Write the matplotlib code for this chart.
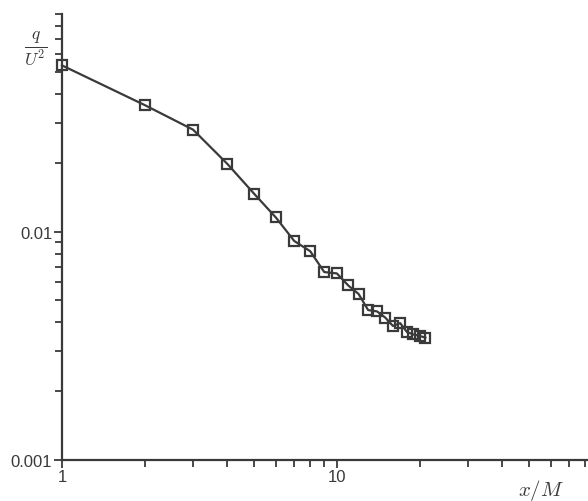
import numpy as np
import matplotlib
matplotlib.use("Agg")
import matplotlib.pyplot as plt
from matplotlib.ticker import LogLocator, NullFormatter, FixedLocator, FixedFormatter

# 讀圖估出來的資料點 (x/M, q/U^2)
x_over_M = [1, 2, 3, 4, 5, 6, 7, 8, 9, 10, 11, 12, 13, 14, 15, 16, 17, 18, 19, 20, 21]
q_over_U2 = [0.0536, 0.0359, 0.0280, 0.0198, 0.01467, 0.01154, 0.00910, 0.00821,
             0.00665, 0.00656, 0.00581, 0.00533, 0.00453, 0.00447, 0.00420,
             0.00386, 0.00397, 0.00363, 0.00354, 0.00349, 0.00343]

x_major = [1, 10]
x_major_labels = ["1", "10"]
y_major = [0.001, 0.01]
y_major_labels = ["0.001", "0.01"]

INK = "#3a3a3a"

plt.rcParams["font.family"] = ["Liberation Sans", "DejaVu Sans"]
plt.rcParams["mathtext.fontset"] = "cm"

fig = plt.figure(figsize=(5.88, 5.02), dpi=100)
ax = fig.add_axes([0.1054, 0.0823, 0.8946, 0.8877])

ax.plot(x_over_M, q_over_U2, color=INK, lw=1.6, marker="s", ms=6.5,
        mfc="none", mec=INK, mew=1.6, clip_on=False, zorder=3)

ax.set_xscale("log")
ax.set_yscale("log")
ax.set_xlim(1, 82)
ax.set_ylim(0.001, 0.09)

for side in ["top", "right"]:
    ax.spines[side].set_visible(False)
for side in ["left", "bottom"]:
    ax.spines[side].set_color(INK)
    ax.spines[side].set_linewidth(1.6)

ax.xaxis.set_major_locator(FixedLocator(x_major))
ax.xaxis.set_major_formatter(FixedFormatter(x_major_labels))
ax.yaxis.set_major_locator(FixedLocator(y_major))
ax.yaxis.set_major_formatter(FixedFormatter(y_major_labels))
ax.xaxis.set_minor_locator(LogLocator(base=10, subs=np.arange(2, 10)))
ax.yaxis.set_minor_locator(LogLocator(base=10, subs=np.arange(2, 10)))
ax.xaxis.set_minor_formatter(NullFormatter())
ax.yaxis.set_minor_formatter(NullFormatter())

ax.tick_params(which="both", direction="out", color=INK, width=1.3,
               labelcolor=INK, labelsize=12)
ax.tick_params(which="major", length=6, pad=1)
ax.tick_params(which="minor", length=5)

ax.text(0.91, -0.068, r"$x/M$", transform=ax.transAxes, fontsize=15,
        color=INK, ha="center", va="center")
ax.text(-0.05, 0.925, r"$\frac{q}{U^2}$", transform=ax.transAxes, fontsize=18,
        color=INK, ha="center", va="center")

fig.savefig("out.png", dpi=100)
